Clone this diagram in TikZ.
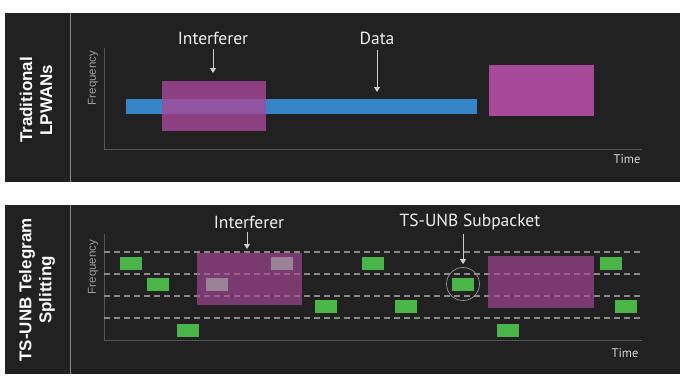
\documentclass[tikz,border=0pt]{standalone}
\usepackage{fontspec}
\setmainfont{PT Sans}
\setsansfont{Liberation Sans}
\usetikzlibrary{arrows.meta,positioning}

\definecolor{panelbg}{HTML}{212121}
\definecolor{databar}{HTML}{3585C9}
\definecolor{intfmag}{HTML}{A84899}
\definecolor{pktgreen}{HTML}{4BB648}
\definecolor{gridgray}{HTML}{8A8A8A}
\definecolor{axisgray}{HTML}{555555}

\begin{document}
\begin{tikzpicture}[x=1pt,y=-1pt,>={Triangle[width=6pt,length=5pt]}]
        \tikzset{panel/.style={fill=panelbg, draw=none},
        rowtitle/.style={font=\sffamily\bfseries\fontsize{17}{20}\selectfont, text=white, rotate=90, align=center},
        lbl/.style={font=\fontsize{17.5}{20}\selectfont, text=white!94!black, inner sep=1pt},
        axlbl/.style={font=\sffamily\fontsize{11.5}{13}\selectfont, text=gray!75, inner sep=0pt},
        timelbl/.style={font=\fontsize{12.5}{14}\selectfont, text=white!85!black, inner sep=0pt},
        box/.style={inner sep=0pt, outer sep=0pt},
        intf/.style={box, fill=intfmag, fill opacity=0.8},
        intfb/.style={box, fill=intfmag, fill opacity=0.65},
        subpkt/.style={box, fill=pktgreen, minimum width=22pt, minimum height=13pt},
        lostpkt/.style={box, fill=gray!60, fill opacity=0.6, minimum width=22pt, minimum height=13pt},
        pointer/.style={draw=white!80!black, line width=0.8pt, ->},
        grid/.style={draw=gridgray, line width=1.1pt, dash pattern=on 6pt off 4pt},
        axis/.style={draw=axisgray, line width=0.6pt}
        }
        \useasboundingbox[fill=white] (0,0) rectangle (685,381);

%% panels
        \path[panel] (5,13) rectangle (680,182);
        \path[panel] (5,205) rectangle (680,374);
        \draw[gridgray, line width=0.8pt] (70,13) -- (70,182);
        \draw[gridgray, line width=0.8pt] (70,205) -- (70,374);
        \node [rowtitle] (trad) at (36,100) {Traditional\\LPWANs};
        \node [rowtitle] (tsunb) at (37,290) {TS-UNB Telegram\\Splitting};

%% traditional LPWANs
        \coordinate (o1) at (104,149);
        \draw[axis] (104,48) -- (o1) -- (642,149);
        \node [axlbl, rotate=90] (freq1) at (93,78) {Frequency};
        \node [timelbl] (time1) at (627,159) {Time};
        \node [box, fill=databar, minimum width=351pt, minimum height=15pt] (datab) at (301.5,106.5) {};
        \node [intf, minimum width=104pt, minimum height=50pt] (intf1) at (214,106) {};
        \node [box, fill=intfmag, minimum width=105pt, minimum height=51pt] (intf2) at (541.5,90.5) {};
        \node [lbl] (intf_lbl) at (213,38) {Interferer};
        \node [lbl] (data_lbl) at (377,38) {Data};

%% telegram splitting
        \coordinate (o2) at (104,340);
        \draw[axis] (104,234) -- (o2) -- (642,340);
        \node [axlbl, rotate=90] (freq2) at (93,267) {Frequency};
        \node [timelbl] (time2) at (625,353) {Time};
        \draw[grid] (104,252) -- (642,252);
        \draw[grid] (104,274) -- (642,274);
        \draw[grid] (104,296) -- (642,296);
        \draw[grid] (104,318) -- (642,318);
        \node [intfb, minimum width=105pt, minimum height=52pt] (intf3) at (249.5,279) {};
        \node [intfb, minimum width=106pt, minimum height=52pt] (intf4) at (541,282) {};

        \node [subpkt] (p1) at (130.5,263.5) {};
        \node [subpkt] (p2) at (158,284) {};
        \node [subpkt] (p3) at (188,330) {};
        \node [lostpkt] (l1) at (217,284) {};
        \node [lostpkt] (l2) at (282,263.5) {};
        \node [subpkt] (p4) at (326,306) {};
        \node [subpkt] (p5) at (373,263.5) {};
        \node [subpkt] (p6) at (406,306) {};
        \node [subpkt] (p7) at (463,284) {};
        \node [subpkt] (p8) at (508,330) {};
        \node [subpkt] (p9) at (611,263.5) {};
        \node [subpkt] (p10) at (626,306) {};
        \node [draw=gray!85, line width=0.7pt, circle, minimum size=33pt, inner sep=0pt] (sel) at (p7) {};

        \node [lbl] (intf_lbl2) at (249,222) {Interferer};
        \node [lbl] (sub_lbl) at (470,222) {TS-UNB Subpacket};

%% pointers
        \draw[pointer, shorten <=4pt, shorten >=8pt] (intf_lbl.south) -- (intf_lbl.south |- intf1.north);
        \draw[pointer, shorten <=4pt, shorten >=7pt] (data_lbl.south) -- (data_lbl.south |- datab.north);
        \draw[pointer, shorten <=3pt, shorten >=4pt] (intf_lbl2.south -| 247,0) -- (247,0 |- intf3.north);
        \draw[pointer, shorten <=3pt, shorten >=3pt] (sel |- sub_lbl.south) -- (sel.north);
    \end{tikzpicture}
\end{document}
